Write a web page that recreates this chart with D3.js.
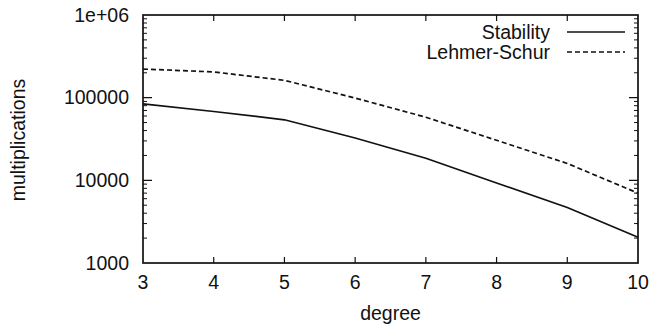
<!DOCTYPE html>
<html>
<head>
<meta charset="utf-8">
<script src="https://cdn.jsdelivr.net/npm/d3@7"></script>
<style>
  body { margin: 0; background: #fff; }
  text { font-family: "Liberation Sans", Arial, sans-serif; fill: #111; }
</style>
</head>
<body>
<div id="chart"></div>
<script>
// chart values
var degrees = [3, 4, 5, 6, 7, 8, 9, 10];
var stability = [84000, 68000, 54000, 32500, 18500, 9300, 4700, 2050];
var lehmerSchur = [222000, 205000, 162000, 99000, 58000, 30500, 16000, 7000];
var yTickValues = [1000, 10000, 100000, 1000000];
var yTickLabels = ["1000", "10000", "100000", "1e+06"];

var svgWidth = 666;
var svgHeight = 329;

var margin = {
    top: 15,
    right: 28,
    bottom: 66,
    left: 143
};

var width = svgWidth - margin.left - margin.right;
var height = svgHeight - margin.top - margin.bottom;

var svg = d3.select("#chart")
    .append("svg")
    .attr("width", svgWidth)
    .attr("height", svgHeight);

var chartGroup = svg.append("g")
    .attr("transform", `translate(${margin.left}, ${margin.top})`);

var xScale = d3.scaleLinear()
    .domain([3, 10])
    .range([0, width]);

var yScale = d3.scaleLog()
    .domain([1000, 1000000])
    .range([height, 0]);

// minor log ticks
var minorTicks = [];
[1000, 10000, 100000].forEach(function (base) {
    for (var k = 2; k <= 9; k++) minorTicks.push(base * k);
});

var fontSize = "19.5px";

// frame
chartGroup.append("rect")
    .attr("width", width)
    .attr("height", height)
    .attr("fill", "none")
    .attr("stroke", "#111")
    .attr("stroke-width", 1.7);

// x ticks inward, bottom and top
chartGroup.selectAll(".xtick")
    .data(degrees.slice(1, -1))
    .enter()
    .append("path")
    .attr("d", d => `M${xScale(d)},${height}v-6M${xScale(d)},0v6`)
    .attr("stroke", "#111")
    .attr("stroke-width", 1.2);

chartGroup.selectAll(".xlabel")
    .data(degrees)
    .enter()
    .append("text")
    .attr("x", d => xScale(d))
    .attr("y", height + 26)
    .style("font-size", fontSize)
    .style("text-anchor", "middle")
    .text(d => d);

// y ticks inward, left and right
chartGroup.selectAll(".ytick")
    .data(yTickValues.slice(1, -1))
    .enter()
    .append("path")
    .attr("d", d => `M0,${yScale(d)}h9M${width},${yScale(d)}h-9`)
    .attr("stroke", "#111")
    .attr("stroke-width", 1.2);

chartGroup.selectAll(".ymtick")
    .data(minorTicks)
    .enter()
    .append("path")
    .attr("d", d => `M0,${yScale(d)}h4M${width},${yScale(d)}h-4`)
    .attr("stroke", "#111")
    .attr("stroke-width", 1);

chartGroup.selectAll(".ylabel")
    .data(yTickValues)
    .enter()
    .append("text")
    .attr("x", -14)
    .attr("y", d => yScale(d))
    .attr("dy", "0.35em")
    .style("font-size", fontSize)
    .style("text-anchor", "end")
    .text((d, i) => yTickLabels[i]);

// axis titles
chartGroup.append("text")
    .attr("x", width / 2)
    .attr("y", height + 57)
    .style("font-size", fontSize)
    .style("text-anchor", "middle")
    .text("degree");

chartGroup.append("text")
    .attr("transform", "rotate(-90)")
    .attr("x", -125)
    .attr("y", 0 - margin.left + 25)
    .style("font-size", fontSize)
    .style("text-anchor", "middle")
    .text("multiplications");

// series
var line = d3.line()
    .x((d, i) => xScale(degrees[i]))
    .y(d => yScale(d));

var series = [
    { name: "Stability", values: stability, dash: null },
    { name: "Lehmer-Schur", values: lehmerSchur, dash: "5,3" }
];

series.forEach(function (s, i) {
    chartGroup.append("path")
        .datum(s.values)
        .attr("d", line)
        .attr("fill", "none")
        .attr("stroke", "#111")
        .attr("stroke-width", 1.7)
        .attr("stroke-dasharray", s.dash);

    var ly = 17 + i * 20;
    chartGroup.append("text")
        .attr("x", 407)
        .attr("y", ly)
        .attr("dy", "0.35em")
        .style("font-size", fontSize)
        .style("text-anchor", "end")
        .text(s.name);

    chartGroup.append("line")
        .attr("x1", 424)
        .attr("x2", 482)
        .attr("y1", ly)
        .attr("y2", ly)
        .attr("stroke", "#111")
        .attr("stroke-width", 1.6)
        .attr("stroke-dasharray", s.dash);
});
</script>
</body>
</html>
